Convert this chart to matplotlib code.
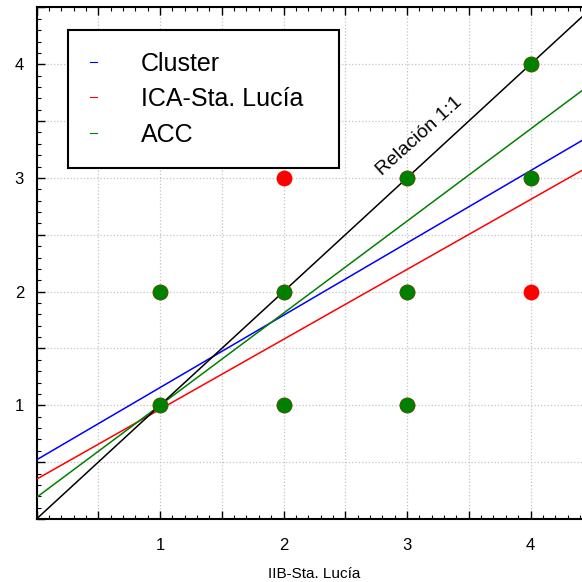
import matplotlib
matplotlib.use("Agg")
import matplotlib.pyplot as plt
import numpy as np
from matplotlib.ticker import MultipleLocator, FuncFormatter

plt.rcParams['font.family'] = ['Liberation Sans', 'DejaVu Sans']

# observed points (IIB vs other index)
ica_x = [1, 1, 2, 2, 2, 3, 3, 3, 4, 4, 4]
ica_y = [1, 2, 1, 2, 3, 1, 2, 3, 2, 3, 4]
acc_x = [1, 1, 2, 2, 3, 3, 3, 4, 4]
acc_y = [1, 2, 1, 2, 1, 2, 3, 3, 4]

# fitted lines: intercept, slope
series = ["Cluster", "ICA-Sta. Lucía", "ACC"]
intercepts = [0.52, 0.35, 0.19]
slopes = [0.636, 0.615, 0.81]
colors = ["blue", "red", "green"]

fig = plt.figure(figsize=(5.82, 5.82), dpi=100)
ax = fig.add_axes([36.5 / 582, 63 / 582, 555.75 / 582, 511.6 / 582])

xs = np.array([0, 4.5])
for name, b, m, c in zip(series, intercepts, slopes, colors):
    ax.plot(xs, b + m * xs, color=c, lw=1.1, label=name, zorder=3)
ax.plot(xs, xs, color="black", lw=1.1, zorder=3)

ax.scatter(ica_x, ica_y, s=130, color="red", zorder=4, linewidths=0)
ax.scatter(acc_x, acc_y, s=124, color="green", zorder=5, linewidths=0)

ax.text(3.1, 3.37, "Relación 1:1", rotation=42, fontsize=14,
        ha="center", va="center", rotation_mode="anchor")

ax.set_xlim(0, 4.5)
ax.set_ylim(0, 4.5)
ax.xaxis.set_major_locator(MultipleLocator(0.5))
ax.yaxis.set_major_locator(MultipleLocator(0.5))
ax.xaxis.set_minor_locator(MultipleLocator(0.1))
ax.yaxis.set_minor_locator(MultipleLocator(0.1))
fmt = FuncFormatter(lambda v, p: "%d" % v if abs(v - round(v)) < 1e-6 and v > 0 else "")
ax.xaxis.set_major_formatter(fmt)
ax.yaxis.set_major_formatter(fmt)
ax.tick_params(which="both", direction="in", top=True, right=False, labelsize=12)
ax.tick_params(which="major", length=6, width=1)
ax.tick_params(which="minor", length=3, width=0.8)
ax.tick_params(axis="x", pad=14)
ax.tick_params(axis="y", pad=9)
ax.grid(True, which="major", ls=":", color="#c4c4c4", lw=0.9)
ax.set_axisbelow(True)
for s in ax.spines.values():
    s.set_linewidth(1.5)
ax.set_xlabel("IIB-Sta. Lucía", fontsize=11, labelpad=10)

leg = ax.legend(loc="upper left", bbox_to_anchor=(0.0567, 0.692, 0.4876, 0.264),
                mode="expand", borderaxespad=0,
                fontsize=18, handlelength=0.3, handletextpad=1.75, borderpad=0.87,
                labelspacing=0.46, fancybox=False, framealpha=1, edgecolor="black")
leg.get_frame().set_linewidth(1.5)
for h in leg.get_lines():
    h.set_linewidth(0.8)
fig.savefig("out.png", dpi=100)
